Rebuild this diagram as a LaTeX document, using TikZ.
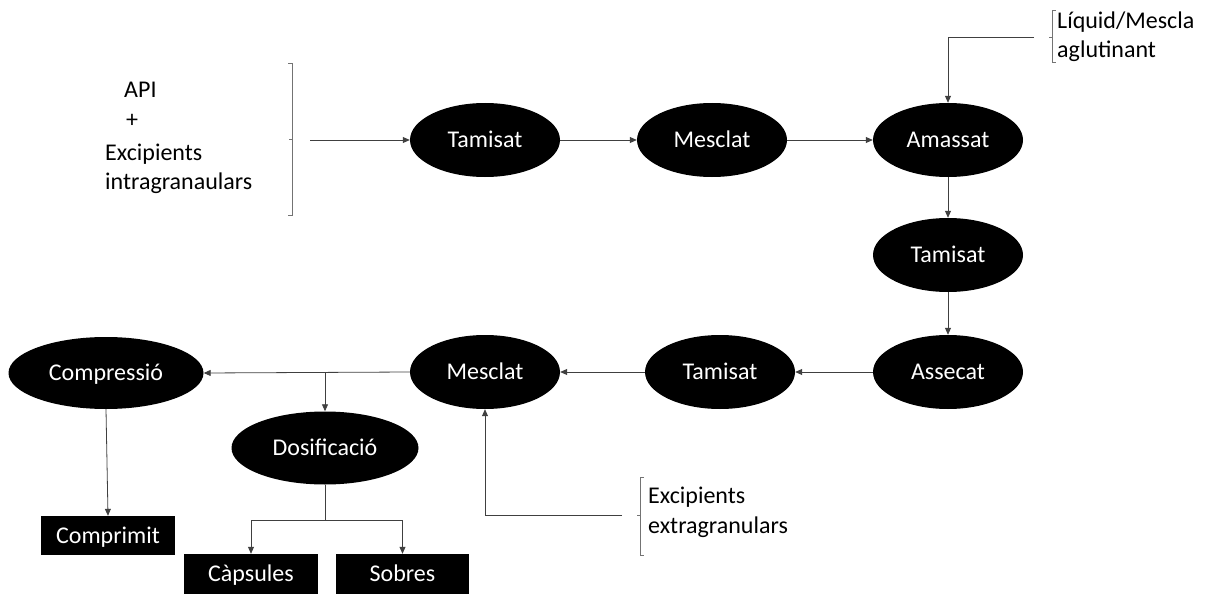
\documentclass[tikz,border=0pt]{standalone}
\usepackage{fontspec}
\setmainfont{Carlito}
\usetikzlibrary{shapes.geometric,arrows.meta}
\begin{document}
\begin{tikzpicture}[x=1pt,y=-1pt,
  txt/.style={font=\fontsize{24}{29}\selectfont},
  proc/.style={ellipse,fill=black,text=white,minimum width=150pt,minimum height=74pt,inner sep=0pt,text height=18pt,text depth=3pt,txt},
  prod/.style={rectangle,fill=black,text=white,minimum width=134pt,minimum height=39pt,inner sep=0pt,text height=18pt,text depth=3pt,txt},
  lbl/.style={anchor=base west,inner sep=0pt,txt},
  conn/.style={draw=black!75,line width=0.8pt,-{Triangle[length=7pt,width=6pt]}},
  plain/.style={draw=black!75,line width=0.8pt},
  brk/.style={draw=black!55,line width=0.6pt}]
\useasboundingbox (0,0) rectangle (1211,594);
% process ellipses
\node[proc] (t1) at (485,140) {Tamisat};
\node[proc] (m1) at (712,140) {Mesclat};
\node[proc] (am) at (948,140) {Amassat};
\node[proc] (t2) at (948,255) {Tamisat};
\node[proc] (as) at (948,372) {Assecat};
\node[proc] (t3) at (720,372) {Tamisat};
\node[proc] (m2) at (485,372) {Mesclat};
\node[proc,minimum width=195pt,minimum height=72pt] (comp) at (106,373) {Compressió};
\node[proc,minimum width=187pt,minimum height=73pt] (dos) at (325,448) {Dosificació};
% products
\node[prod] (cmp) at (108,535.5) {Comprimit};
\node[prod,minimum height=40pt] (caps) at (251,574) {Càpsules};
\node[prod,minimum height=40pt,minimum width=133pt] (sob) at (402.5,574) {Sobres};
% input labels
\node[lbl] (api) at (124,98) {API};
\node[lbl] (plus) at (126,128) {+};
\node[lbl] (exi1) at (105,160) {Excipients};
\node[lbl] (exi2) at (105,189) {intragranaulars};
\node[lbl] (liq1) at (1057,29) {Líquid/Mescla};
\node[lbl] (liq2) at (1057,58) {aglutinant};
\node[lbl] (exe1) at (648,503) {Excipients};
\node[lbl] (exe2) at (648,533) {extragranulars};
% brackets
\draw[brk] (288,63) -- (292,63) -- (292,215) -- (288,215);
\draw[brk] (292,139) -- (289,139);
\draw[brk] (1056,10) -- (1052,10) -- (1052,62) -- (1056,62);
\draw[brk] (1052,37) -- (1049,37);
\draw[brk] (644,477) -- (640,477) -- (640,555) -- (644,555);
\draw[brk] (640,515) -- (637,515);
% connector ends
\coordinate (s1) at (310,140);
\coordinate (s2) at (1034,37);
\coordinate (s3) at (622,515);
\coordinate (br1) at (dos.north |- m2.west);
\coordinate (br2) at (325,520);
% connectors
\draw[conn] (s1) -- (t1.west);
\draw[conn] (t1.east) -- (m1.west);
\draw[conn] (m1.east) -- (am.west);
\draw[conn] (s2) -| (am.north);
\draw[conn] (am.south) -- (t2.north);
\draw[conn] (t2.south) -- (as.north);
\draw[conn] (as.west) -- (t3.east);
\draw[conn] (t3.west) -- (m2.east);
\draw[conn] (s3) -| (m2.south);
\draw[conn] (m2.west) -- (comp.east);
\draw[conn] (br1) -- (dos.north);
\draw[conn] (comp.south) -- (cmp.north);
\draw[plain] (dos.south) -- (br2);
\draw[conn] (br2) -| (caps.north);
\draw[conn] (br2) -| (sob.north);
\end{tikzpicture}
\end{document}
